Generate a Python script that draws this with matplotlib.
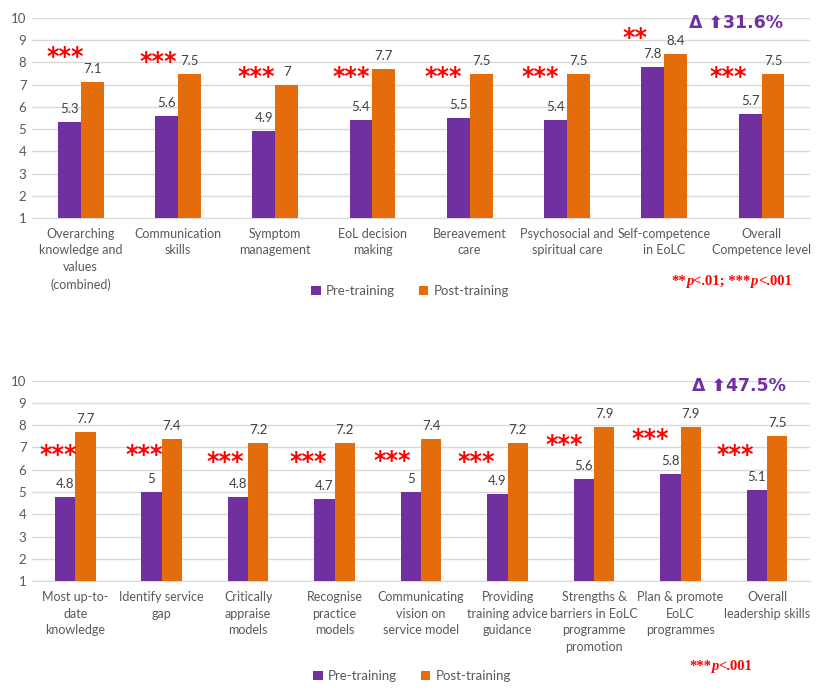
import matplotlib
matplotlib.use("Agg")
import matplotlib.pyplot as plt
import numpy as np

plt.rcParams['font.family'] = ['Lato', 'DejaVu Sans']

# ---------------- data ----------------
top_categories = ["Overarching\nknowledge and\nvalues\n(combined)", "Communication\nskills",
                  "Symptom\nmanagement", "EoL decision\nmaking", "Bereavement\ncare",
                  "Psychosocial and\nspiritual care", "Self-competence\nin EoLC",
                  "Overall\nCompetence level"]
top_pre = [5.3, 5.6, 4.9, 5.4, 5.5, 5.4, 7.8, 5.7]
top_post = [7.1, 7.5, 7, 7.7, 7.5, 7.5, 8.4, 7.5]
top_sig = ["***", "***", "***", "***", "***", "***", "**", "***"]
top_delta = "31.6%"

bot_categories = ["Most up-to-\ndate\nknowledge", "Identify service\ngap",
                  "Critically\nappraise\nmodels", "Recognise\npractice\nmodels",
                  "Communicating\nvision on\nservice model", "Providing\ntraining advice\nguidance",
                  "Strengths &\nbarriers in EoLC\nprogramme\npromotion",
                  "Plan & promote\nEoLC\nprogrammes", "Overall\nleadership skills"]
bot_pre = [4.8, 5, 4.8, 4.7, 5, 4.9, 5.6, 5.8, 5.1]
bot_post = [7.7, 7.4, 7.2, 7.2, 7.4, 7.2, 7.9, 7.9, 7.5]
bot_sig = ["***"] * 9
bot_delta = "47.5%"

yticks = list(range(1, 11))

# layout (annotation placement only)
top_star_y = [8.25, 8.0, 7.35, 7.35, 7.35, 7.35, 9.1, 7.35]
top_star_dx = [-0.16, -0.2, -0.2, -0.22, -0.27, -0.28, -0.3, -0.34]
bot_star_y = [6.65, 6.65, 6.35, 6.35, 6.4, 6.35, 7.1, 7.4, 6.65]
bot_star_dx = [-0.2, -0.2, -0.26, -0.3, -0.33, -0.36, -0.34, -0.35, -0.37]

PURPLE = "#7030A0"
ORANGE = "#E46C0A"
GRID = "#D9D9D9"
TXT = "#595959"

fig = plt.figure(figsize=(8.27, 6.92), dpi=100)
ax1 = fig.add_axes([0.0387, 0.685, 0.941, 0.289])
ax2 = fig.add_axes([0.0387, 0.160, 0.941, 0.290])


def draw(ax, cats, pre, post, sig, star_y, star_dx, delta):
    n = len(cats)
    x = np.arange(n)
    w = 0.235
    b1 = ax.bar(x - w / 2, pre, w, color=PURPLE, label="Pre-training", zorder=3)
    b2 = ax.bar(x + w / 2, post, w, color=ORANGE, label="Post-training", zorder=3)
    for bars, vals in ((b1, pre), (b2, post)):
        for r, v in zip(bars, vals):
            ax.annotate(f"{v:g}", (r.get_x() + r.get_width() / 2, v), xytext=(0, 5),
                        textcoords="offset points", ha="center", va="bottom",
                        fontsize=9.5, color="#404040")
    for i, s in enumerate(sig):
        ax.text(i + star_dx[i], star_y[i], s, ha="center", va="center", color="red",
                fontsize=17, fontweight="bold", family="DejaVu Sans")
    ax.set_xlim(-0.5, n - 0.5)
    ax.set_ylim(1, 10)
    ax.set_yticks(yticks)
    ax.tick_params(axis="y", length=0, labelsize=9.5, labelcolor=TXT, pad=4)
    ax.set_xticks(x)
    ax.set_xticklabels(cats, fontsize=9, color=TXT, linespacing=1.47, va="top")
    ax.tick_params(axis="x", length=0, pad=7)
    ax.yaxis.grid(True, color=GRID, linewidth=1, zorder=0)
    for sp in ("top", "right", "left"):
        ax.spines[sp].set_visible(False)
    ax.spines["bottom"].set_color(GRID)
    ax.text(n - 0.5 - 0.28, 9.78, "Δ ⬆" + delta, ha="right", va="center", color=PURPLE,
            fontsize=12.5, fontweight="bold", family="DejaVu Sans")


draw(ax1, top_categories, top_pre, top_post, top_sig, top_star_y, top_star_dx, top_delta)
draw(ax2, bot_categories, bot_pre, bot_post, bot_sig, bot_star_y, bot_star_dx, bot_delta)

for ax, yy, xx in ((ax1, 291, 410), (ax2, 676, 412)):
    fig.legend(handles=ax.containers[:2], labels=["Pre-training", "Post-training"],
               loc="center", bbox_to_anchor=(xx / 827, 1 - yy / 692), ncol=2, frameon=False,
               fontsize=9.5, labelcolor=TXT, handlelength=0.7, handleheight=0.7,
               columnspacing=1.8, handletextpad=0.4)


def footnote(x0, y0, parts):
    prev = None
    for txt, style in parts:
        kw = dict(color="red", fontsize=10.5, fontweight="bold", family="Liberation Serif",
                  fontstyle=style, va="bottom", ha="left")
        if prev is None:
            prev = fig.text(x0 / 827, 1 - y0 / 692, txt, **kw)
        else:
            prev = plt.annotate(txt, xy=(1, 0), xycoords=prev, xytext=(0, 0),
                                textcoords="offset points", annotation_clip=False, **kw)


footnote(671, 288, [("**", "normal"), ("p", "italic"), ("<.01; ***", "normal"),
                    ("p", "italic"), ("<.001", "normal")])
footnote(689, 673, [("***", "normal"), ("p", "italic"), ("<.001", "normal")])

fig.savefig("out.png", dpi=100)
